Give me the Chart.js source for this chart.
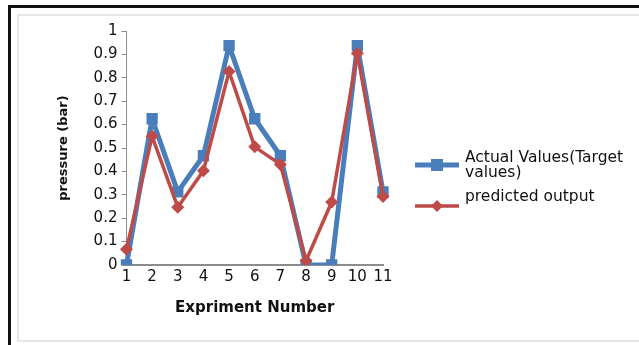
<!DOCTYPE html>
<html lang="en">
<head>
    <meta charset="UTF-8">
    <title>Actual vs predicted pressure</title>
    <script src="https://cdn.jsdelivr.net/npm/chart.js"></script>
    <style>
        html, body {
            margin: 0;
            padding: 0;
            background: #fff;
        }
        .frame {
            position: relative;
            width: 639px;
            height: 345px;
            overflow: hidden;
        }
        .outer {
            position: absolute;
            left: 8px;
            top: 5px;
            right: -10px;
            bottom: -10px;
            border: 3px solid #111;
        }
        .inner {
            position: absolute;
            left: 17px;
            top: 14px;
            right: -10px;
            bottom: 3px;
            border: 2px solid #e6e6e6;
        }
        #chart-container {
            position: absolute;
            left: 0;
            top: 0;
            width: 639px;
            height: 345px;
        }
    </style>
</head>
<body>
    <div class="frame">
        <div class="outer"></div>
        <div class="inner"></div>
        <div id="chart-container">
            <canvas id="pressureChart"></canvas>
        </div>
    </div>

    <script>
        const experiments = ['1', '2', '3', '4', '5', '6', '7', '8', '9', '10', '11'];
        const actualValues = [0, 0.625, 0.3125, 0.467, 0.9375, 0.625, 0.467, 0, 0, 0.9375, 0.3125];
        const predictedValues = [0.067, 0.55, 0.247, 0.403, 0.827, 0.505, 0.43, 0.018, 0.269, 0.905, 0.293];
        const seriesNames = ['Actual Values(Target values)', 'predicted output'];

        const blue = '#4A7EBB';
        const red = '#BE4B48';
        const font = 'DejaVu Sans';

        // legend drawn by hand so the long label can wrap like the original
        const sideLegend = {
            id: 'sideLegend',
            afterDraw(chart) {
                const ctx = chart.ctx;
                const items = [
                    { ds: chart.data.datasets[0], y: 165, lines: ['Actual Values(Target', 'values)'], textY: 158 },
                    { ds: chart.data.datasets[1], y: 206, lines: ['predicted output'], textY: 197 }
                ];
                ctx.save();
                items.forEach(item => {
                    const ds = item.ds;
                    ctx.strokeStyle = ds.borderColor;
                    ctx.lineWidth = ds.borderWidth;
                    ctx.beginPath();
                    ctx.moveTo(415, item.y);
                    ctx.lineTo(459, item.y);
                    ctx.stroke();
                    ctx.fillStyle = ds.borderColor;
                    ctx.beginPath();
                    if (ds.pointStyle === 'rect') {
                        ctx.fillRect(437 - 6, item.y - 6, 12, 12);
                    } else {
                        ctx.moveTo(437, item.y - 6);
                        ctx.lineTo(443, item.y);
                        ctx.lineTo(437, item.y + 6);
                        ctx.lineTo(431, item.y);
                        ctx.closePath();
                        ctx.fill();
                    }
                    ctx.fillStyle = '#111';
                    ctx.font = '15.5px "' + font + '"';
                    ctx.textBaseline = 'middle';
                    item.lines.forEach((t, i) => ctx.fillText(t, 465, item.textY + i * 15));
                });
                ctx.restore();
            }
        };

        const ctx = document.getElementById('pressureChart').getContext('2d');
        new Chart(ctx, {
            type: 'line',
            data: {
                labels: experiments,
                datasets: [
                    {
                        label: seriesNames[0],
                        data: actualValues,
                        borderColor: blue,
                        backgroundColor: blue,
                        borderWidth: 5,
                        borderJoinStyle: 'round',
                        pointStyle: 'rect',
                        pointRadius: 8,
                        pointBorderWidth: 0,
                        tension: 0,
                        order: 1
                    },
                    {
                        label: seriesNames[1],
                        data: predictedValues,
                        borderColor: red,
                        backgroundColor: red,
                        borderWidth: 3.5,
                        borderJoinStyle: 'round',
                        pointStyle: 'rectRot',
                        pointRadius: 6.5,
                        pointBorderWidth: 0,
                        tension: 0,
                        order: 0
                    }
                ]
            },
            options: {
                responsive: true,
                maintainAspectRatio: false,
                animation: false,
                layout: {
                    padding: { left: 52, right: 256, top: 31, bottom: 24 }
                },
                scales: {
                    x: {
                        offset: false,
                        grid: { display: false, drawTicks: false },
                        border: { display: true, color: '#8c8c8c', width: 2 },
                        ticks: {
                            color: '#111',
                            font: { family: font, size: 15 },
                            padding: 3,
                            maxRotation: 0,
                            autoSkip: false
                        },
                        title: {
                            display: true,
                            text: 'Expriment Number',
                            color: '#111',
                            font: { family: font, size: 15, weight: 'bold' },
                            padding: { top: 10 }
                        }
                    },
                    y: {
                        min: 0,
                        max: 1,
                        grid: { drawOnChartArea: false, drawTicks: true, tickLength: 5, color: '#8c8c8c' },
                        border: { display: true, color: '#8c8c8c', width: 1 },
                        ticks: {
                            stepSize: 0.1,
                            color: '#111',
                            font: { family: font, size: 15 },
                            padding: 4,
                            callback: v => Math.round(v * 10) / 10
                        },
                        title: {
                            display: true,
                            text: 'pressure (bar)',
                            color: '#111',
                            font: { family: font, size: 13, weight: 'bold' },
                            padding: { bottom: 18 }
                        }
                    }
                },
                plugins: {
                    legend: { display: false },
                    tooltip: { enabled: false }
                }
            },
            plugins: [sideLegend]
        });
    </script>
</body>
</html>
